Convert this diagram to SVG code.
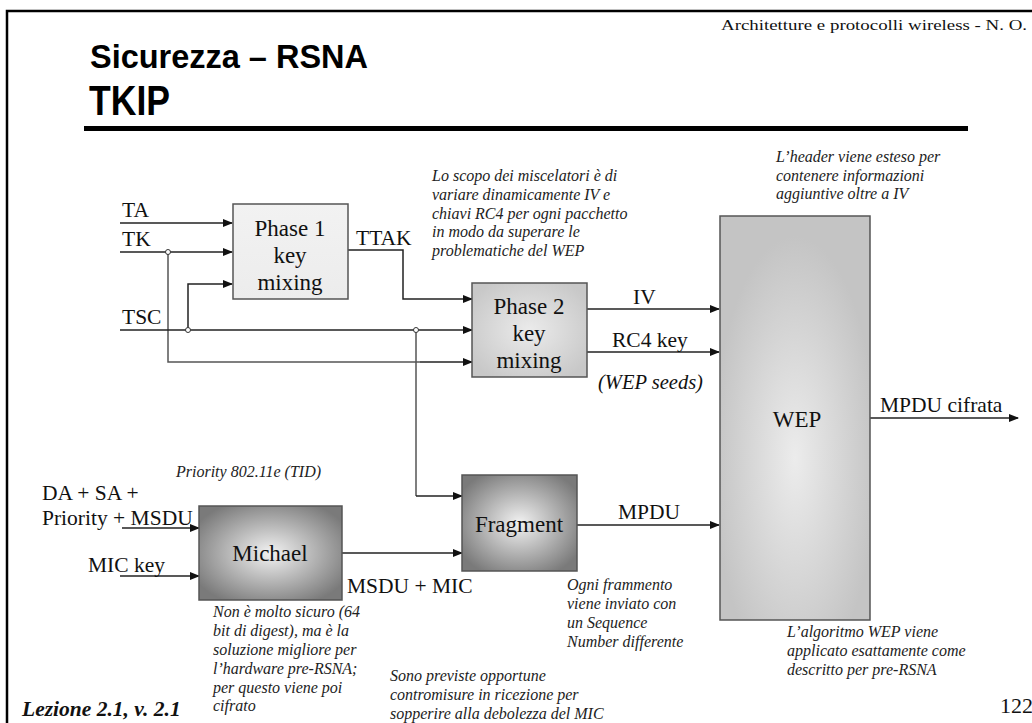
<svg xmlns="http://www.w3.org/2000/svg" width="1032" height="723" viewBox="0 0 1032 723">
<defs>
<style>
.ser{font-family:"Liberation Serif","Times New Roman",serif;fill:#111}
.lbl{font-size:21.5px}
.box{font-size:23px;text-anchor:middle}
.note{font-family:"Liberation Serif","Times New Roman",serif;font-style:italic;font-size:16px;fill:#222}
.ttl{font-family:"Liberation Sans Narrow","Liberation Sans",Arial,sans-serif;font-weight:bold;fill:#000}
.ln{fill:none;stroke:#222;stroke-width:1.5}
.ln2{fill:none;stroke:#555;stroke-width:1.5}
.arr{marker-end:url(#ah)}
.dot{fill:#fff;stroke:#333;stroke-width:1}
.bx{stroke:#555;stroke-width:1.5}
</style>
<marker id="ah" markerWidth="10" markerHeight="8" refX="9" refY="4" orient="auto" markerUnits="userSpaceOnUse">
<path d="M0,0 L10,4 L0,8 Z" fill="#111"/>
</marker>
<radialGradient id="gDark" cx="0.5" cy="0.5" r="0.6">
<stop offset="0" stop-color="#f2f2f2"/>
<stop offset="1" stop-color="#7a7a7a"/>
</radialGradient>
<radialGradient id="gWep" cx="0.5" cy="0.6" r="0.55">
<stop offset="0" stop-color="#ececec"/>
<stop offset="1" stop-color="#c4c4c4"/>
</radialGradient>
<radialGradient id="gP2" cx="0.5" cy="0.5" r="0.6">
<stop offset="0" stop-color="#ebebeb"/>
<stop offset="1" stop-color="#c8c8c8"/>
</radialGradient>
<linearGradient id="gP1" x1="0" y1="0" x2="0" y2="1">
<stop offset="0" stop-color="#f2f2f2"/>
<stop offset="1" stop-color="#ececec"/>
</linearGradient>
</defs>
<rect width="1032" height="723" fill="#fff"/>
<!-- frame -->
<path d="M7,723 V11 H1032" fill="none" stroke="#000" stroke-width="2.5"/>
<text class="ser" x="1027" y="30" font-size="15" text-anchor="end" textLength="306" lengthAdjust="spacingAndGlyphs">Architetture e protocolli wireless - N. O.</text>
<text class="ttl" x="90" y="68" font-size="33" textLength="278" lengthAdjust="spacingAndGlyphs">Sicurezza – RSNA</text>
<text class="ttl" x="89" y="115" font-size="42" textLength="81" lengthAdjust="spacingAndGlyphs">TKIP</text>
<rect x="84" y="126" width="884" height="5" fill="#000"/>
<text class="ser" x="22" y="716" font-size="21.5" font-weight="bold" font-style="italic">Lezione 2.1, v. 2.1</text>
<text class="ser" x="1000" y="713" font-size="22">122</text>

<!-- connectors -->
<g id="connectors">
<path class="ln arr" d="M120,223 H232"/>
<path class="ln arr" d="M120,252 H232"/>
<path class="ln2" d="M168,252 V362 H420"/>
<path class="ln arr" d="M420,362 H472"/>
<path class="ln arr" d="M188,330 V284 H232"/>
<path class="ln arr" d="M120,330 H472"/>
<path class="ln arr" d="M348,250 H403 V299 H472"/>
<path class="ln2" d="M416,330 V496"/>
<path class="ln arr" d="M416,496 H462"/>
<path class="ln arr" d="M587,309 H719"/>
<path class="ln arr" d="M587,352 H719"/>
<path class="ln arr" d="M870,418 H1018"/>
<path class="ln arr" d="M577,525 H719"/>
<path class="ln arr" d="M122,528 H199"/>
<path class="ln arr" d="M120,576 H199"/>
<path class="ln arr" d="M342,553 H462"/>
<circle class="dot" cx="168" cy="252" r="2.5"/>
<circle class="dot" cx="188" cy="330" r="2.5"/>
<circle class="dot" cx="416" cy="330" r="2.5"/>
</g>

<!-- labels -->
<g id="labels">
<text class="ser lbl" x="122" y="217">TA</text>
<text class="ser lbl" x="122" y="246">TK</text>
<text class="ser lbl" x="122" y="324">TSC</text>
<text class="ser lbl" x="356" y="245">TTAK</text>
<text class="ser lbl" x="633" y="304">IV</text>
<text class="ser lbl" x="612" y="347">RC4 key</text>
<text class="ser" x="598" y="389" font-size="20.5" font-style="italic">(WEP seeds)</text>
<text class="ser lbl" x="880" y="412">MPDU cifrata</text>
<text class="ser lbl" x="618" y="519">MPDU</text>
<text class="ser lbl" x="347" y="593">MSDU + MIC</text>
<text class="ser lbl" x="42" y="500">DA + SA +</text>
<text class="ser lbl" x="42" y="525">Priority + MSDU</text>
<text class="ser lbl" x="88" y="572">MIC key</text>
</g>

<g id="phase1">
<rect class="bx" x="233" y="204" width="115" height="95" fill="url(#gP1)"/>
<text class="ser box" x="290" y="236">Phase 1</text>
<text class="ser box" x="290" y="263">key</text>
<text class="ser box" x="290" y="290">mixing</text>
</g>
<g id="phase2">
<rect class="bx" x="472" y="283" width="115" height="94" fill="url(#gP2)"/>
<text class="ser box" x="529" y="314">Phase 2</text>
<text class="ser box" x="529" y="341">key</text>
<text class="ser box" x="529" y="368">mixing</text>
</g>
<g id="wep">
<rect class="bx" x="720" y="216" width="150" height="404" fill="url(#gWep)"/>
<text class="ser box" x="797" y="427" font-size="24">WEP</text>
</g>
<g id="fragment">
<rect class="bx" x="462" y="475" width="115" height="96" fill="url(#gDark)"/>
<text class="ser box" x="519" y="532" font-size="24.5">Fragment</text>
</g>
<g id="michael">
<rect class="bx" x="199" y="506" width="143" height="94" fill="url(#gDark)"/>
<text class="ser box" x="270" y="561">Michael</text>
</g>

<!-- notes -->
<g id="notes">
<text class="note" x="432" y="181">Lo scopo dei miscelatori è di</text>
<text class="note" x="432" y="200">variare dinamicamente  IV e</text>
<text class="note" x="432" y="219">chiavi RC4 per ogni pacchetto</text>
<text class="note" x="432" y="237">in modo da superare le</text>
<text class="note" x="432" y="256">problematiche del WEP</text>
<text class="note" x="776" y="162">L’header viene esteso per</text>
<text class="note" x="776" y="181">contenere informazioni</text>
<text class="note" x="776" y="199">aggiuntive oltre a IV</text>
<text class="note" x="176" y="477">Priority 802.11e (TID)</text>
<text class="note" x="213" y="617">Non è molto sicuro (64</text>
<text class="note" x="213" y="636">bit di digest), ma è la</text>
<text class="note" x="213" y="655">soluzione migliore per</text>
<text class="note" x="213" y="674">l’hardware pre-RSNA;</text>
<text class="note" x="213" y="693">per questo viene poi</text>
<text class="note" x="213" y="711">cifrato</text>
<text class="note" x="567" y="590">Ogni frammento</text>
<text class="note" x="567" y="609">viene inviato con</text>
<text class="note" x="567" y="628">un Sequence</text>
<text class="note" x="567" y="647">Number differente</text>
<text class="note" x="390" y="681">Sono previste opportune</text>
<text class="note" x="390" y="700">contromisure in ricezione per</text>
<text class="note" x="390" y="719">sopperire alla debolezza del MIC</text>
<text class="note" x="787" y="637">L’algoritmo WEP viene</text>
<text class="note" x="787" y="656">applicato esattamente come</text>
<text class="note" x="787" y="675">descritto per pre-RSNA</text>
</g>
</svg>
